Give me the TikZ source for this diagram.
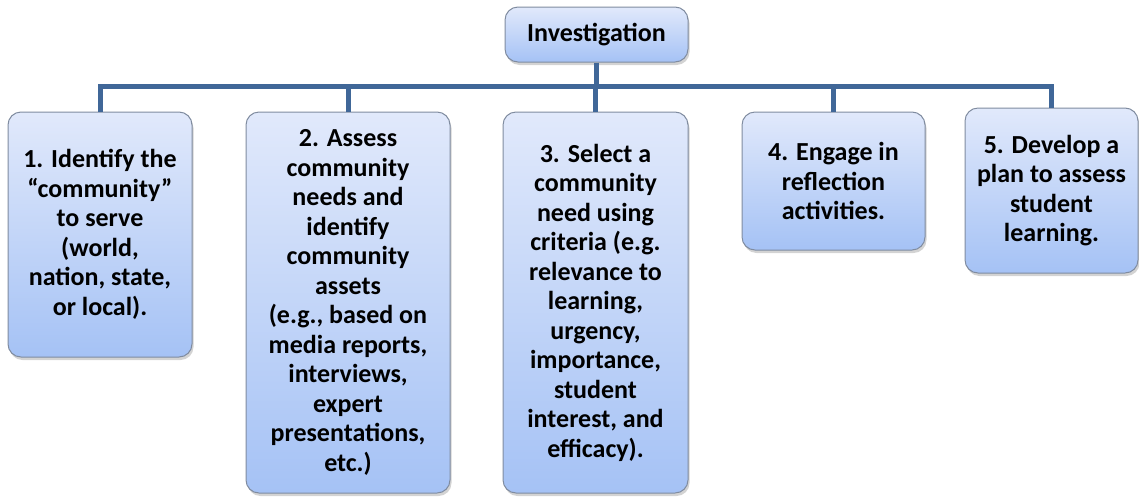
\documentclass[tikz,border=0pt]{standalone}
\usepackage{fontspec}
\setmainfont{Carlito}
\usetikzlibrary{shadows}
\definecolor{boxtop}{RGB}{225,233,251}
\definecolor{boxbot}{RGB}{165,194,245}
\definecolor{boxline}{RGB}{128,140,160}
\definecolor{connblue}{RGB}{64,103,152}
\tikzset{
  stepbox/.style={draw=boxline, line width=1pt, rounded corners=13pt,
    top color=boxtop, bottom color=boxbot, inner sep=0pt, align=center,
    font=\fontsize{26}{29.5}\selectfont\bfseries, text=black,
    drop shadow={opacity=0.35, shadow xshift=1.5pt, shadow yshift=-3pt}},
  conn/.style={draw=connblue, line width=5pt, line join=miter}
}
\begin{document}
\begin{tikzpicture}[x=1pt, y=-1pt]
\useasboundingbox (0,0) rectangle (1139,496);
\coordinate (bar) at (0,86.5);
% connectors first
\node[stepbox, minimum width=183pt, minimum height=55pt] (inv) at (596.5,34.5) {Investigation};
\node[stepbox, minimum width=184pt, minimum height=245pt] (b1) at (100,234.5)
  {1. Identify the\\“community”\\to serve\\(world,\\nation, state,\\or local).};
\node[stepbox, minimum width=204pt, minimum height=381pt] (b2) at (348,302.5)
  {2. Assess\\community\\needs and\\identify\\community\\assets\\(e.g., based on\\media reports,\\interviews,\\expert\\presentations,\\etc.)};
\node[stepbox, minimum width=185pt, minimum height=381pt] (b3) at (595.5,302.5)
  {3. Select a\\community\\need using\\criteria (e.g.\\relevance to\\learning,\\urgency,\\importance,\\student\\interest, and\\efficacy).};
\node[stepbox, minimum width=183pt, minimum height=138pt] (b4) at (833.5,181)
  {4. Engage in\\reflection\\activities.};
\node[stepbox, minimum width=173pt, minimum height=165pt] (b5) at (1051.5,190.5)
  {5. Develop a\\plan to assess\\student\\learning.};
\begin{scope}[on background layer/.try]
\end{scope}
\draw[conn] (b1.north) -- (b1.north |- bar) -- (b5.north |- bar) -- (b5.north);
\draw[conn] (inv.south) -- (inv.south |- bar);
\draw[conn] (b2.north) -- (b2.north |- bar);
\draw[conn] (b3.north) -- (b3.north |- bar);
\draw[conn] (b4.north) -- (b4.north |- bar);
\end{tikzpicture}
\end{document}
